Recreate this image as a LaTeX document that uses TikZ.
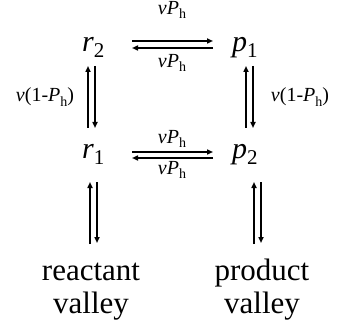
\documentclass[tikz,border=0pt]{standalone}
\usepackage{fontspec}
\setmainfont{Liberation Serif}
\usetikzlibrary{arrows.meta,calc}
\newcommand\lsub[1]{\raisebox{-0.22em}{\fontsize{14}{14}\selectfont #1}}
\newcommand\bsub[1]{\raisebox{-0.2em}{\fontsize{21}{21}\selectfont #1}}
\begin{document}
\begin{tikzpicture}[x=1pt,y=-1pt,
  state/.style={font=\fontsize{30}{30}\selectfont, inner sep=0pt, anchor=base west},
  lbl/.style={font=\fontsize{20}{20}\selectfont, inner sep=0pt},
  valley/.style={font=\fontsize{31}{33}\selectfont, inner sep=0pt, align=center, anchor=north},
  arr/.style={line width=1.7pt, -{Triangle[length=6pt,width=5pt]}}]
\useasboundingbox (0,0) rectangle (339,323);
\node[state] (r2) at (82,52) {\textit{r}\bsub{2}};
\node[state] (p1) at (232,52) {\textit{p}\bsub{1}};
\node[state] (r1) at (82,158) {\textit{r}\bsub{1}};
\node[state] (p2) at (232,158) {\textit{p}\bsub{2}};
\node[valley] (rv) at (91,257) {\strut reactant\\valley};
\node[valley] (pv) at (262,257) {\strut product\\valley};
% rate labels
\node[lbl] (t1) at (172,10) {\textit{ν}\textit{P}\lsub{h}};
\node[lbl] (t2) at (172,63) {\textit{ν}\textit{P}\lsub{h}};
\node[lbl] (b1) at (172,139) {\textit{ν}\textit{P}\lsub{h}};
\node[lbl] (b2) at (172,170) {\textit{ν}\textit{P}\lsub{h}};
\node[lbl] (lv) at (45,97) {\textit{ν}(1-\textit{P}\lsub{h})};
\node[lbl] (rvl) at (300,97) {\textit{ν}(1-\textit{P}\lsub{h})};
% top horizontal pair
\draw[arr] ($(r2.base west)+(50,-11)$) -- ($(p1.base west)+(-19,-11)$);
\draw[arr] ($(p1.base west)+(-19,-4)$) -- ($(r2.base west)+(50,-4)$);
% bottom horizontal pair
\draw[arr] ($(r1.base west)+(50,-6)$) -- ($(p2.base west)+(-19,-6)$);
\draw[arr] ($(p2.base west)+(-19,0)$) -- ($(r1.base west)+(50,0)$);
% left vertical pair
\draw[arr] ($(r1.base west)+(6,-30)$) -- ($(r2.base west)+(6,14)$);
\draw[arr] ($(r2.base west)+(13,14)$) -- ($(r1.base west)+(13,-30)$);
% right vertical pair
\draw[arr] ($(p2.base west)+(14,-30)$) -- ($(p1.base west)+(14,14)$);
\draw[arr] ($(p1.base west)+(21,14)$) -- ($(p2.base west)+(21,-30)$);
% lower vertical pairs
\draw[arr] ($(rv.north)+(-1,-13)$) -- ($(r1.base west)+(8,24)$);
\draw[arr] ($(r1.base west)+(15,24)$) -- ($(rv.north)+(6,-14)$);
\draw[arr] ($(pv.north)+(-8,-13)$) -- ($(p2.base west)+(22,24)$);
\draw[arr] ($(p2.base west)+(29,24)$) -- ($(pv.north)+(-1,-14)$);
\end{tikzpicture}
\end{document}
